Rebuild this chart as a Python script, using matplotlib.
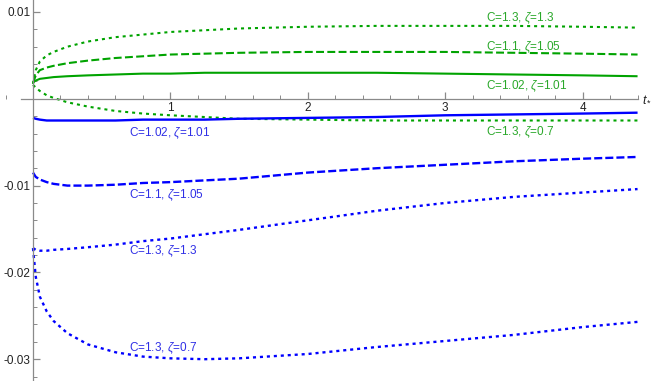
import matplotlib
matplotlib.use("Agg")
import matplotlib.pyplot as plt
from matplotlib.ticker import MultipleLocator, FixedLocator

plt.rcParams['font.family'] = ['Liberation Sans', 'DejaVu Sans']
plt.rcParams['mathtext.fontset'] = 'custom'
plt.rcParams['mathtext.rm'] = 'Liberation Sans'
plt.rcParams['mathtext.it'] = 'Liberation Sans:italic'

# ---- data ----
t = [0, 0.02, 0.05, 0.1, 0.15, 0.25, 0.4, 0.6, 0.8, 1.0, 1.25, 1.5, 2.0, 2.5, 3.0, 3.5, 4.0, 4.4]

green_102_101 = [0.0019, 0.0021, 0.0023, 0.0024, 0.0025, 0.0026, 0.0027, 0.0028, 0.0029, 0.0029,
                 0.0030, 0.0030, 0.0030, 0.0030, 0.0029, 0.0028, 0.0027, 0.0026]
green_11_105 = [0.0018, 0.0027, 0.0033, 0.0036, 0.0038, 0.0041, 0.0044, 0.0047, 0.0049, 0.0051,
                0.0052, 0.0053, 0.0054, 0.0054, 0.0054, 0.0053, 0.0052, 0.0051]
green_13_13 = [0.0017, 0.0033, 0.0043, 0.0050, 0.0054, 0.0060, 0.0066, 0.0071, 0.0074, 0.0077,
               0.0079, 0.0081, 0.0083, 0.0084, 0.0084, 0.0084, 0.0083, 0.0082]
green_13_07 = [0.0016, 0.0013, 0.0009, 0.0004, 0.0001, -0.0004, -0.0009, -0.0014, -0.0017, -0.0019,
               -0.0021, -0.0023, -0.0024, -0.0025, -0.0025, -0.0025, -0.0025, -0.0025]

blue_102_101 = [-0.0022, -0.0023, -0.0024, -0.0025, -0.0025, -0.0025, -0.0025, -0.0025, -0.0024, -0.0024,
                -0.0024, -0.0023, -0.0022, -0.0021, -0.0019, -0.0018, -0.0017, -0.0016]
blue_11_105 = [-0.0085, -0.0090, -0.0093, -0.0096, -0.0098, -0.0100, -0.0100, -0.0099, -0.0097, -0.0096,
               -0.0094, -0.0092, -0.0085, -0.0080, -0.0076, -0.0072, -0.0069, -0.0067]
blue_13_13 = [-0.0172, -0.0174, -0.0175, -0.0175, -0.0174, -0.0173, -0.0171, -0.0168, -0.0164, -0.0161,
              -0.0156, -0.0151, -0.0140, -0.0129, -0.0120, -0.0113, -0.0108, -0.0104]
blue_13_07 = [-0.0172, -0.0205, -0.0228, -0.0245, -0.0256, -0.0270, -0.0283, -0.0292, -0.0297, -0.0299,
              -0.0300, -0.0299, -0.0294, -0.0286, -0.0279, -0.0272, -0.0263, -0.0257]

green_labels = [r'C=1.3, $\zeta$=1.3', r'C=1.1, $\zeta$=1.05', r'C=1.02, $\zeta$=1.01', r'C=1.3, $\zeta$=0.7']
green_label_pos = [(3.30, 0.0093), (3.30, 0.0060), (3.30, 0.0015), (3.30, -0.0039)]
blue_labels = [r'C=1.02, $\zeta$=1.01', r'C=1.1, $\zeta$=1.05', r'C=1.3, $\zeta$=1.3', r'C=1.3, $\zeta$=0.7']
blue_label_pos = [(0.70, -0.0040), (0.70, -0.0111), (0.70, -0.0176), (0.70, -0.0287)]

x_major = [1, 2, 3, 4]
y_major = [0.01, -0.01, -0.02, -0.03]
y_major_labels = ['0.01', '-0.01', '-0.02', '-0.03']

# ---- styles ----
GREEN = '#00a300'
BLUE = '#0000ff'
GREEN_TXT = '#2aa82a'
BLUE_TXT = '#2f2fe6'
AXIS = '#8a8a8a'
g_lw = 1.5
b_lw = 1.7
g_dashed = (0, (3.8, 1.6))
g_dotted = (0, (1.45, 1.9))
b_dashed = (0, (3.4, 1.3))
b_dotted = (0, (1.3, 1.65))

fig = plt.figure(figsize=(6.54, 3.81), dpi=100)
ax = fig.add_axes([0, 0, 1, 1])
ax.set_xlim(-33 / 137.4, (654 - 33) / 137.4)
ax.set_ylim((98.8 - 381) / 8680.0, 98.8 / 8680.0)

ax.plot(t, green_102_101, color=GREEN, lw=g_lw, solid_capstyle='butt')
ax.plot(t, green_11_105, color=GREEN, lw=g_lw, ls=g_dashed, dash_capstyle='butt')
ax.plot(t, green_13_13, color=GREEN, lw=g_lw, ls=g_dotted, dash_capstyle='butt')
ax.plot(t, green_13_07, color=GREEN, lw=g_lw, ls=g_dotted, dash_capstyle='butt')

ax.plot(t, blue_102_101, color=BLUE, lw=b_lw, solid_capstyle='butt')
ax.plot(t, blue_11_105, color=BLUE, lw=b_lw, ls=b_dashed, dash_capstyle='butt')
ax.plot(t, blue_13_13, color=BLUE, lw=b_lw, ls=b_dotted, dash_capstyle='butt')
ax.plot(t, blue_13_07, color=BLUE, lw=b_lw, ls=b_dotted, dash_capstyle='butt')

for lab, (x, y) in zip(green_labels, green_label_pos):
    ax.text(x, y, lab, color=GREEN_TXT, fontsize=8.5, ha='left', va='center')
for lab, (x, y) in zip(blue_labels, blue_label_pos):
    ax.text(x, y, lab, color=BLUE_TXT, fontsize=8.5, ha='left', va='center')

# Mathematica-style axes through origin
for s in ['top', 'right']:
    ax.spines[s].set_visible(False)
ax.spines['left'].set_position(('data', 0))
ax.spines['bottom'].set_position(('data', 0))
ax.spines['left'].set_color(AXIS)
ax.spines['bottom'].set_color(AXIS)
ax.spines['left'].set_linewidth(0.9)
ax.spines['bottom'].set_linewidth(0.9)
ax.spines['bottom'].set_bounds(-0.09, 4.4)

ax.xaxis.set_major_locator(FixedLocator(x_major))
ax.xaxis.set_minor_locator(MultipleLocator(0.2))
ax.set_xticklabels([str(v) for v in x_major])
ax.yaxis.set_major_locator(FixedLocator(y_major))
ax.yaxis.set_minor_locator(MultipleLocator(0.002))
ax.set_yticklabels(y_major_labels)

ax.tick_params(axis='both', which='major', direction='in', length=5, width=0.9,
               color=AXIS, labelsize=8.5, labelcolor='#222222')
ax.tick_params(axis='both', which='minor', direction='in', length=3, width=0.7, color=AXIS)
ax.tick_params(axis='x', which='major', pad=2)
ax.tick_params(axis='y', which='major', pad=2)

ax.annotate(r'$t_*$', xy=(4.4, 0), xytext=(3, 0), textcoords='offset points',
            ha='left', va='center', fontsize=9, color='#222222')

fig.savefig('out.png', dpi=100)
